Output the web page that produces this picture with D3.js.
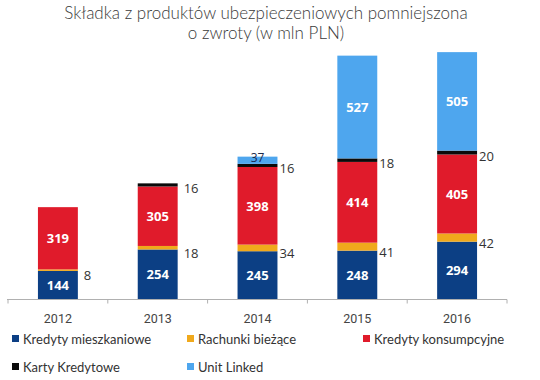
<!DOCTYPE html>
<html><head><meta charset="utf-8">
<script src="https://cdn.jsdelivr.net/npm/d3@7/dist/d3.min.js"></script>
<style>
body{margin:0;background:#fff;}
svg{display:block;}
</style></head>
<body>
<svg id="c" width="540" height="380"></svg>
<script>
const years = ["2012","2013","2014","2015","2016"];
const seriesNames = ["Kredyty mieszkaniowe","Rachunki bieżące","Kredyty konsumpcyjne","Karty Kredytowe","Unit Linked"];
const kredytyMieszkaniowe = [144,254,245,248,294];
const rachunkiBiezace = [8,18,34,41,42];
const kredytyKonsumpcyjne = [319,305,398,414,405];
const kartyKredytowe = [0,16,16,18,20];
const unitLinked = [0,0,37,527,505];
const colors = ["#0c3f84","#f0a91c","#e01b2b","#0a0a0a","#4ea6ee"];
const titleLines = ["Składka z produktów ubezpieczeniowych pomniejszona","o zwroty (w mln  PLN)"];

const seriesValues = [kredytyMieszkaniowe,rachunkiBiezace,kredytyKonsumpcyjne,kartyKredytowe,unitLinked];
const keys = ["s0","s1","s2","s3","s4"];
const table = years.map((y,i)=>{const o={year:y}; keys.forEach((k,j)=>o[k]=seriesValues[j][i]); return o;});
const stacked = d3.stack().keys(keys)(table);

const svg = d3.select("#c");
const x = d3.scaleBand().domain(years).range([8,507]).paddingInner(0.6).paddingOuter(0.3);
const y = d3.scaleLinear().domain([0,1300]).range([299,45.5]);
const band = d3.scaleBand().domain(years).range([8,507]);

// title
svg.append("g").selectAll("text").data(titleLines).join("text")
  .attr("x",266).attr("y",(d,i)=>19+i*20).attr("text-anchor","middle")
  .attr("font-family","Lato, sans-serif").attr("font-weight",300).attr("font-size",17).attr("fill","#3a3a3a")
  .text(d=>d);

// bars
svg.append("g").selectAll("g").data(stacked).join("g")
  .attr("fill",(d,i)=>colors[i])
  .selectAll("rect").data(d=>d.filter(p=>p[1]>p[0])).join("rect")
  .attr("x",d=>x(d.data.year)).attr("width",x.bandwidth())
  .attr("y",d=>y(d[1])).attr("height",d=>y(d[0])-y(d[1]));

// axis
const axis = svg.append("g").attr("transform","translate(0,299.5)");
axis.append("line").attr("x1",7).attr("x2",507).attr("stroke","#b0b0b0");
const tickXs = years.map(d=>band(d)).concat([band(years[years.length-1])+band.bandwidth()]);
axis.selectAll("line.t").data(tickXs).join("line").attr("class","t")
  .attr("x1",d=>d).attr("x2",d=>d).attr("y1",0).attr("y2",4).attr("stroke","#b0b0b0");
axis.selectAll("text").data(years).join("text")
  .attr("x",d=>x(d)+x.bandwidth()/2).attr("y",23).attr("text-anchor","middle")
  .attr("font-family","Roboto, sans-serif").attr("font-size",12.5).attr("fill","#444")
  .text(d=>d);

// inside labels (white bold)
const insideSeries = [0,2,4];
insideSeries.forEach(si=>{
  svg.append("g").selectAll("text").data(stacked[si].filter(p=>p[1]-p[0]>100)).join("text")
    .attr("x",d=>x(d.data.year)+x.bandwidth()/2)
    .attr("y",d=>(y(d[0])+y(d[1]))/2+5)
    .attr("text-anchor","middle").attr("font-family","'Open Sans', sans-serif")
    .attr("font-weight","bold").attr("font-size",13).attr("fill","#fff")
    .text(d=>d[1]-d[0]);
});
// small Unit Linked label on top
svg.append("g").selectAll("text").data(stacked[4].filter(p=>p[1]>p[0] && p[1]-p[0]<=100)).join("text")
  .attr("x",d=>x(d.data.year)+x.bandwidth()/2).attr("y",d=>y(d[1])+5)
  .attr("text-anchor","middle").attr("font-family","'Open Sans', sans-serif")
  .attr("font-size",12).attr("fill","#1d2a4a").text(d=>d[1]-d[0]);

// outside labels (orange and black series)
[[1,7],[3,7]].forEach(([si,off])=>{
  svg.append("g").selectAll("text").data(stacked[si].filter(p=>p[1]>p[0])).join("text")
    .attr("x",d=>x(d.data.year)+x.bandwidth()+ (d.data.year==="2012"||d.data.year==="2013"?6:2))
    .attr("y",d=>(y(d[0])+y(d[1]))/2+off+ (si===1?3:1))
    .attr("font-family","'Open Sans', sans-serif").attr("font-size",13).attr("fill","#333")
    .text(d=>d[1]-d[0]);
});

// legend
const legPos = [[12,340],[187,340],[363,340],[12,368],[187,368]];
const lg = svg.append("g").selectAll("g").data(seriesNames).join("g")
  .attr("transform",(d,i)=>`translate(${legPos[i][0]},${legPos[i][1]})`);
lg.append("rect").attr("x",0).attr("y",-5).attr("width",7).attr("height",7).attr("fill",(d,i)=>colors[i]);
lg.append("text").attr("x",11).attr("y",4).attr("font-family","Lato, sans-serif")
  .attr("font-size",13).attr("fill","#333").text(d=>d);
</script>
</body></html>
